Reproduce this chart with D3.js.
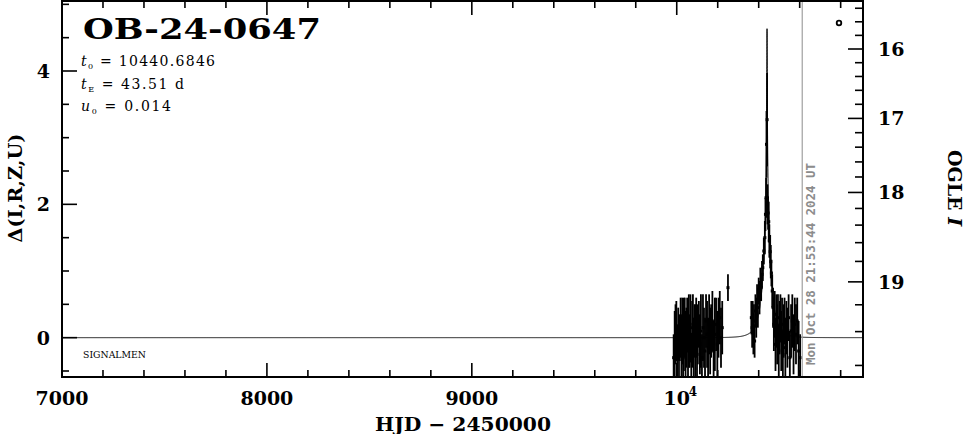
<!DOCTYPE html>
<html><head><meta charset="utf-8">
<script src="https://cdn.jsdelivr.net/npm/d3@7/dist/d3.min.js"></script>
<style>
html,body{margin:0;padding:0;background:#fff;}
svg{display:block;}
</style></head>
<body>
<script>
// ---- data ----
const title = "OB-24-0647";
const t0 = 10440.6846, tE = 43.51, u0 = 0.014;
const nowHJD = 10612.41;             // Mon Oct 28 21:53:44 2024 UT
const nowLabel = "Mon Oct 28 21:53:44 2024 UT";
const xMajorTicks = [7000, 8000, 9000, 10000];
const xTickLabels = ["7000", "8000", "9000", "10"];
const yMajorTicks = [0, 2, 4];
const magMajor = [16, 17, 18, 19];
const magBase = 19.44, magFs = 0.43;   // baseline I and source fraction for the right axis

// season 2023
const s1t = [9985,9990,9994,9998,10003,10007,10011,10015,10019,10023,10027,10031,10035,10039,10043,10047,10051,10055,10059,10063,10067,10071,10075,10079,10083,10087,10091,10095,10099,10103,10108,10113,10118,10123,10128,10133,10138,10143,10148,10153,10158,10163,10168,10174,10180,10186,10192,10198,10204,10210,10216,10222,10250];
const s1d = [-0.30,-0.10,0.05,0.10,-0.20,0.05,-0.25,0.00,0.15,-0.15,0.10,-0.30,0.05,0.15,-0.10,0.00,0.20,-0.20,0.10,-0.05,0.15,-0.35,0.05,0.20,-0.15,0.10,-0.05,0.15,-0.25,0.05,0.20,-0.10,0.10,-0.30,0.15,0.00,-0.20,0.25,0.05,-0.15,0.20,-0.05,0.10,0.25,-0.20,0.05,0.20,-0.10,0.15,0.30,0.00,0.15,0.75];
const s1e = [0.35,0.50,0.45,0.45,0.40,0.40,0.45,0.35,0.45,0.50,0.50,0.40,0.55,0.45,0.50,0.45,0.40,0.45,0.55,0.40,0.50,0.40,0.50,0.45,0.45,0.40,0.55,0.45,0.40,0.45,0.35,0.45,0.55,0.35,0.50,0.45,0.50,0.40,0.50,0.45,0.45,0.50,0.40,0.45,0.45,0.55,0.40,0.50,0.45,0.40,0.45,0.40,0.20];
// season 2024
const s2t = [10364,10368,10371,10374,10377,10380,10384,10388,10392,10396,10400,10404,10408,10412,10416,10420,10425,10430,10433,10436,10438,10441,10443,10446,10449,10452,10456,10459,10462,10466,10470,10474,10478,10482,10486,10490,10494,10498,10502,10506,10510,10514,10518,10522,10526,10530,10535,10540,10546,10552,10558,10564,10570,10576,10582,10588,10595,10602];
const s2d = [0.30,0.15,0.35,0.05,0.25,-0.05,0.40,0.30,0.55,0.45,0.70,0.60,0.80,0.75,0.95,1.05,1.30,1.50,1.85,2.10,2.90,3.27,2.00,1.87,1.74,1.45,1.29,1.14,0.97,0.70,0.45,0.20,0.35,-0.10,0.25,0.05,0.30,-0.20,0.15,0.30,-0.05,0.20,-0.25,0.10,0.25,-0.15,0.15,0.00,0.30,-0.30,0.10,0.25,-0.10,0.20,0.05,0.25,-0.20,-0.30];
const s2e = [0.25,0.30,0.20,0.30,0.25,0.25,0.25,0.30,0.25,0.30,0.20,0.25,0.25,0.20,0.20,0.20,0.20,0.25,0.25,0.30,0.50,0.70,0.30,0.25,0.30,0.25,0.25,0.25,0.20,0.25,0.30,0.40,0.35,0.40,0.40,0.45,0.35,0.40,0.40,0.35,0.45,0.40,0.35,0.40,0.35,0.45,0.40,0.45,0.35,0.40,0.40,0.40,0.45,0.40,0.45,0.35,0.45,0.35];

// ---- layout ----
const W = 966, H = 434;
const L = 62, R = 863, T = 1, B = 377;
const x = d3.scaleLinear().domain([7000, 10909]).range([L, R]);
const y = d3.scaleLinear().domain([-0.59, 5.05]).range([B, T]);
const serif = "'DejaVu Serif', serif";

const svg = d3.select("body").append("svg").attr("width", W).attr("height", H);
svg.append("defs").append("clipPath").attr("id", "clip")
  .append("rect").attr("x", L).attr("y", T).attr("width", R - L).attr("height", B - T);

// model curve (point-lens model from the parameters shown on the chart)
function magA(t) {
  const u = Math.sqrt(u0 * u0 + ((t - t0) / tE) ** 2);
  return (u * u + 2) / (u * Math.sqrt(u * u + 4));
}
const ts = [];
for (let t = 7000; t <= 10909; t += (Math.abs(t - t0) < 60 ? 0.05 : 2)) ts.push(t);
const plot = svg.append("g").attr("clip-path", "url(#clip)");
plot.append("path")
  .attr("d", d3.line().x(t => x(t)).y(t => y(2.5 * Math.log10(magA(t))))(ts))
  .attr("fill", "none").attr("stroke", "#000").attr("stroke-width", 1);

// data
const pts = [];
s1t.forEach((t, i) => pts.push({t, d: s1d[i], e: s1e[i]}));
s2t.forEach((t, i) => pts.push({t, d: s2d[i], e: s2e[i]}));
plot.selectAll("line.err").data(pts).join("line").attr("class", "err")
  .attr("x1", p => x(p.t)).attr("x2", p => x(p.t))
  .attr("y1", p => y(p.d - p.e)).attr("y2", p => y(p.d + p.e))
  .attr("stroke", "#000").attr("stroke-width", 1.8);
plot.selectAll("rect.pt").data(pts).join("rect").attr("class", "pt")
  .attr("x", p => x(p.t) - 1.5).attr("y", p => y(p.d) - 1.5)
  .attr("width", 3).attr("height", 3).attr("fill", "#000");

// "now" line and label
svg.append("line").attr("x1", x(nowHJD)).attr("x2", x(nowHJD)).attr("y1", T).attr("y2", B)
  .attr("stroke", "#a0a0a0").attr("stroke-width", 1.2);
svg.append("text").attr("transform", `translate(${x(nowHJD) + 12.5},365) rotate(-90)`)
  .attr("font-family", "'DejaVu Sans Mono', monospace").attr("font-weight", "bold")
  .attr("font-size", 12).attr("fill", "#8c8c8c")
  .attr("textLength", 202).attr("lengthAdjust", "spacingAndGlyphs").text(nowLabel);

// frame
svg.append("rect").attr("x", L).attr("y", T).attr("width", R - L).attr("height", B - T)
  .attr("fill", "none").attr("stroke", "#000").attr("stroke-width", 2);

const tk = svg.append("g").attr("stroke", "#000").attr("stroke-width", 1.6);
// x ticks (bottom & top)
d3.range(7000, 10909, 200).forEach(v => {
  const major = v % 1000 === 0;
  const len = major ? 14 : 7;
  tk.append("line").attr("x1", x(v)).attr("x2", x(v)).attr("y1", B).attr("y2", B - len);
  tk.append("line").attr("x1", x(v)).attr("x2", x(v)).attr("y1", T).attr("y2", T + len);
});
// left y ticks
d3.range(-0.5, 5.01, 0.5).forEach(v => {
  const major = yMajorTicks.includes(v);
  tk.append("line").attr("x1", L).attr("x2", L + (major ? 15 : 7)).attr("y1", y(v)).attr("y2", y(v));
});
// right magnitude axis
function magToDelta(I) {
  const F = Math.pow(10, -0.4 * (I - magBase));
  return 2.5 * Math.log10((F - (1 - magFs)) / magFs);
}
d3.range(15.4, 19.61, 0.2).forEach(I => {
  const Ir = Math.round(I * 10) / 10;
  const d = magToDelta(Ir);
  if (!(d > -0.59 && d < 5.05)) return;
  const major = magMajor.includes(Ir);
  tk.append("line").attr("x1", R).attr("x2", R - (major ? 15 : 8)).attr("y1", y(d)).attr("y2", y(d));
});

// tick labels
const lab = svg.append("g").attr("font-family", serif).attr("font-weight", "bold").attr("font-size", 19).attr("fill", "#000");
xMajorTicks.forEach((v, i) => {
  lab.append("text").attr("x", x(v)).attr("y", 405).attr("text-anchor", "middle").text(xTickLabels[i]);
});
lab.append("text").attr("x", x(10000) + 12).attr("y", 396).attr("font-size", 12).text("4");
yMajorTicks.forEach(v => {
  lab.append("text").attr("x", 50).attr("y", y(v)).attr("dy", "0.36em").attr("text-anchor", "end").text(v);
});
magMajor.forEach(I => {
  lab.append("text").attr("x", 878).attr("y", y(magToDelta(I))).attr("dy", "0.36em").text(I);
});

// axis titles
lab.append("text").attr("x", 463).attr("y", 431).attr("text-anchor", "middle")
  .attr("textLength", 176).attr("lengthAdjust", "spacingAndGlyphs").text("HJD \u2212 2450000");
lab.append("text").attr("transform", "translate(22,188) rotate(-90)").attr("text-anchor", "middle")
  .attr("textLength", 109).attr("lengthAdjust", "spacingAndGlyphs").text("\u0394(I,R,Z,U)");
const og = lab.append("text").attr("transform", "translate(948,188) rotate(90)").attr("text-anchor", "middle");
og.append("tspan").text("OGLE ");
og.append("tspan").attr("font-style", "italic").text("I");

// title and parameters
svg.append("text").attr("x", 83).attr("y", 38.5).attr("font-family", serif).attr("font-weight", "bold")
  .attr("font-size", 28).attr("textLength", 238).attr("lengthAdjust", "spacingAndGlyphs").text(title);
const params = [
  {sym: "t", sub: "0", val: " = " + t0.toFixed(4), y: 66, len: 134},
  {sym: "t", sub: "E", val: " = " + tE.toFixed(2) + " d", y: 88.5, len: 103},
  {sym: "u", sub: "0", val: " = " + u0.toFixed(3), y: 111, len: 90}
];
params.forEach(p => {
  const tx = svg.append("text").attr("x", 81).attr("y", p.y).attr("font-family", serif)
    .attr("font-size", 14).attr("textLength", p.len).attr("lengthAdjust", "spacing");
  tx.append("tspan").attr("font-style", "italic").text(p.sym);
  tx.append("tspan").attr("font-size", 8).attr("dy", 3).text(p.sub);
  tx.append("tspan").attr("dy", -3).text(p.val);
});
svg.append("text").attr("x", 83).attr("y", 358.3).attr("font-family", serif).attr("font-size", 9)
  .attr("textLength", 63).attr("lengthAdjust", "spacingAndGlyphs").text("SIGNALMEN");

// small marker top-right
svg.append("circle").attr("cx", 839).attr("cy", 23).attr("r", 2.3)
  .attr("fill", "none").attr("stroke", "#000").attr("stroke-width", 1.8);
</script>
</body></html>
